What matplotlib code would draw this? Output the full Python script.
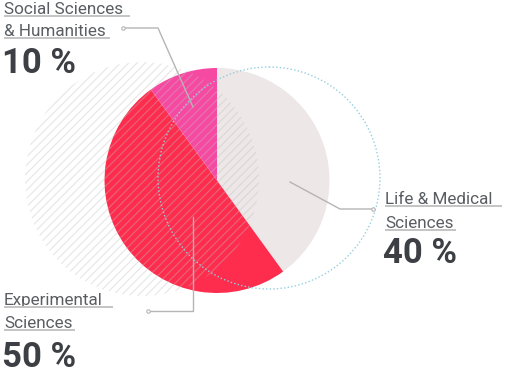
import matplotlib.pyplot as plt
from matplotlib.patches import Circle

# data
categories = ["Life & Medical\nSciences", "Experimental\nSciences", "Social Sciences\n& Humanities"]
shares = [40, 50, 10]
colors = ["#ede7e7", "#fe2d4e", "#f64aa2"]

plt.rcParams['font.family'] = ['Roboto', 'DejaVu Sans']
plt.rcParams['hatch.linewidth'] = 0.8

fig = plt.figure(figsize=(5.14, 3.76), dpi=100)
ax = fig.add_axes([0, 0, 1, 1])

# the pie itself (y axis is inverted, so counterclock=True runs clockwise on screen)
ax.pie(shares, colors=colors, startangle=-90, counterclock=True,
       center=(217, 180.5), radius=112.5, frame=True,
       wedgeprops=dict(linewidth=0))
ax.set_xlim(0, 514)
ax.set_ylim(376, 0)
ax.set_aspect('equal')
ax.axis('off')

# hatched background circle
hatch = Circle((142, 179), 117, facecolor='none', edgecolor='#c0c0c0',
               hatch='////', linewidth=0, alpha=0.4, zorder=3)
ax.add_patch(hatch)

# dotted outline circle
dotted = Circle((269, 178), 111, facecolor='none', edgecolor='#92cfe0',
                linewidth=1.0, linestyle=(0, (1, 1.6)), zorder=4)
ax.add_patch(dotted)

line_col = '#b5b5b5'
lbl_col = '#5a5e63'
num_col = '#3c3f44'

# leader lines
leaders = [
    ([193, 158, 123], [107, 28, 28]),
    ([193, 193, 148], [217, 311, 311]),
    ([290, 340, 373], [182, 209, 209]),
]
for xs, ys in leaders:
    ax.plot(xs, ys, color=line_col, lw=1, zorder=5)
    ax.plot(xs[-1], ys[-1], marker='o', ms=2.5, mfc='white', mec=line_col,
            mew=0.8, zorder=6)

# label blocks: (x, first baseline, underline ends, percent baseline)
labels = [
    (4, [14, 36], [130, 110], 73, shares[2], categories[2]),
    (4, [305, 328], [113, 75], 367, shares[1], categories[1]),
    (385, [204, 228], [502, 456], 263, shares[0], categories[0]),
]
for x, bases, ends, nb, val, name in labels:
    for line, b, e in zip(name.split('\n'), bases, ends):
        ax.text(x, b, line, fontsize=12.3, fontweight='normal', color=lbl_col,
                va='baseline', ha='left', zorder=7)
        ax.plot([x, e], [b + 2, b + 2], color='#c4c4c4', lw=1.4, zorder=7,
                solid_capstyle='butt')
    ax.text(x - 2, nb, f"{val} %", fontsize=25, fontweight='bold',
            color=num_col, va='baseline', ha='left', zorder=7)

fig.savefig('out.png', dpi=100)
